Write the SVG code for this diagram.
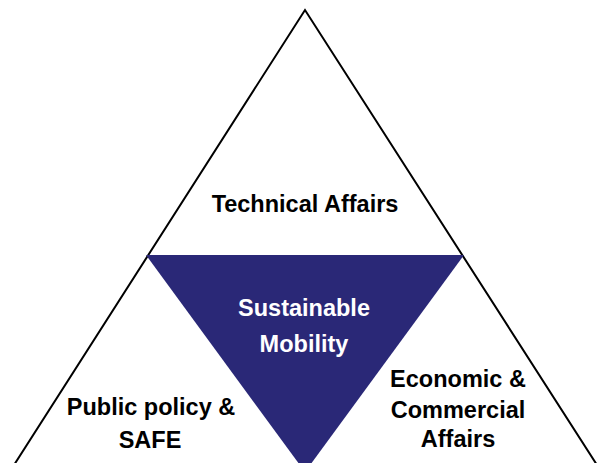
<svg xmlns="http://www.w3.org/2000/svg" width="599" height="463" viewBox="0 0 599 463">
<style>
.t{font-family:"Liberation Sans",Arial,sans-serif;font-weight:bold;font-size:23.5px;text-anchor:middle;fill:#000}
.w{fill:#fff}
.edge{fill:none;stroke:#000;stroke-width:2}
</style>
<rect width="599" height="463" fill="#fff"/>
<g id="connectors">
<polyline class="edge" points="14,465 305,10 597,465"/>
</g>
<g id="core">
<polygon points="146,255 464,255 305,472" fill="#2a2877"/>
<text class="t w" x="304" y="316">Sustainable</text>
<text class="t w" x="304" y="352">Mobility</text>
</g>
<g id="technical">
<text class="t" x="305" y="212">Technical Affairs</text>
</g>
<g id="public">
<text class="t" x="151" y="415">Public policy &amp;</text>
<text class="t" x="150" y="448">SAFE</text>
</g>
<g id="economic">
<text class="t" x="458" y="387">Economic &amp;</text>
<text class="t" x="458" y="418">Commercial</text>
<text class="t" x="458" y="447">Affairs</text>
</g>
</svg>
